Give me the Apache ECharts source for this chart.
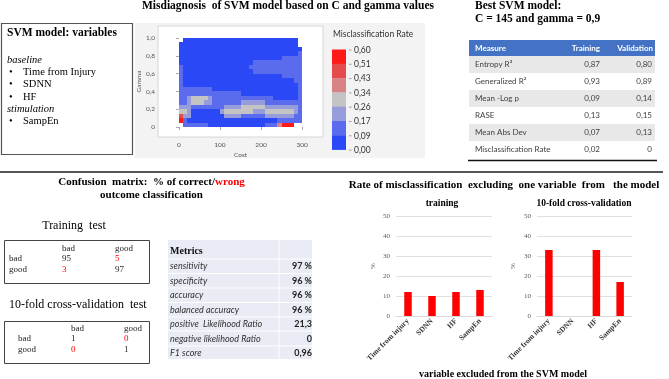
<!DOCTYPE html>
<html>
<head>
<meta charset="utf-8">
<script src="https://cdn.jsdelivr.net/npm/echarts@6/dist/echarts.min.js"></script>
<style>
html, body { margin: 0; padding: 0; background: #fff; }
#main { width: 669px; height: 379px; }
</style>
</head>
<body>
<div id="main"></div>
<script>
// ---- contour panel: misclassification rate over Cost x Gamma (10-wide cost bins, 0.05 gamma bins)
var costBins = [5,15,25,35,45,55,65,75,85,95,105,115,125,135,145,155,165,175,185,195,205,215,225,235,245,255,265,275,285,295];
var gammaBins = [0.025,0.075,0.125,0.175,0.225,0.275,0.325,0.375,0.425,0.475,0.525,0.575,0.625,0.675,0.725,0.775,0.825,0.875,0.925,0.975];
// rows from gamma 0.95-1.00 (top) down to 0-0.05 (bottom), null = outside the explored area
var rateRows = [
  [null,.05,.05,.05,.05,.05,.05,.05,.05,.05,  .05,.05,.05,.05,.05,.05,.05,.05,.05,.05,  .05,.05,.05,.05,.05,.05,.05,.05,.05,null],
  [.05,.05,.05,.05,.05,.05,.05,.05,.05,.05,  .05,.05,.05,.05,.05,.05,.05,.05,.05,.05,  .05,.05,.05,.05,.05,.05,.05,.05,.05,null],
  [.05,.05,.05,.05,.05,.05,.05,.05,.05,.05,  .05,.05,.05,.05,.05,.05,.05,.05,.05,.05,  .05,.05,.05,.05,.05,.05,.05,.05,.05,.05],
  [.05,.05,.05,.05,.05,.05,.05,.05,.05,.05,  .05,.05,.05,.05,.05,.05,.05,.05,.05,.05,  .05,.05,.05,.05,.05,.05,.05,.05,.05,.13],
  [.05,.05,.05,.05,.05,.05,.05,.05,.05,.05,  .05,.05,.05,.05,.05,.05,.05,.05,.05,.05,  .05,.05,.05,.05,.05,.13,.13,.13,.13,.13],
  [.05,.05,.05,.05,.05,.05,.05,.05,.05,.05,  .05,.05,.05,.05,.05,.05,.05,.05,.13,.13,  .13,.13,.13,.13,.13,.13,.13,.13,.13,.13],
  [.13,.05,.05,.05,.05,.05,.05,.05,.05,.05,  .05,.05,.05,.05,.05,.05,.05,.13,.13,.13,  .13,.13,.13,.13,.13,.13,.13,.13,.13,.13],
  [.13,.05,.05,.05,.05,.05,.05,.05,.05,.05,  .05,.05,.05,.05,.05,.05,.05,.05,.13,.13,  .13,.13,.13,.13,.13,.13,.13,.13,.13,.13],
  [.13,.05,.05,.05,.05,.05,.05,.05,.05,.05,  .05,.05,.05,.05,.05,.05,.05,.05,.05,.05,  .05,.05,.05,.05,.05,.13,.13,.13,.13,.13],
  [.13,.05,.05,.05,.05,.05,.05,.05,.05,.05,  .05,.05,.05,.05,.05,.05,.05,.05,.05,.05,  .05,.05,.05,.05,.05,.05,.05,.05,.13,.13],
  [.13,.05,.05,.05,.05,.05,.05,.05,.05,.05,  .05,.05,.05,.05,.05,.05,.05,.05,.05,.05,  .05,.05,.05,.05,.05,.05,.05,.05,.05,.13],
  [.13,.13,.13,.13,.13,.13,.13,.13,.05,.05,  .05,.05,.05,.05,.05,.05,.05,.05,.05,.05,  .05,.05,.05,.05,.05,.05,.05,.05,.05,.13],
  [.13,.13,.13,.13,.13,.13,.13,.13,.13,.13,  .13,.13,.13,.13,.13,.05,.05,.05,.05,.05,  .05,.05,.05,.05,.05,.05,.05,.05,.05,.13],
  [.13,.13,.21,.30,.30,.30,.30,.21,.13,.13,  .13,.13,.13,.13,.13,.13,.13,.13,.13,.13,  .13,.13,.13,.05,.05,.05,.05,.05,.05,.13],
  [.13,.13,.21,.30,.30,.30,.21,.21,.13,.13,  .13,.13,.13,.13,.13,.21,.21,.21,.21,.21,  .21,.13,.13,.13,.13,.13,.13,.13,.13,.13],
  [.21,.21,.21,.13,.13,.13,.13,.13,.13,.13,  .13,.21,.21,.21,.21,.30,.30,.30,.30,.30,  .30,.21,.21,.21,.21,.21,.21,.21,.21,.13],
  [.30,.30,.21,.05,.05,.05,.05,.05,.05,.05,  .21,.30,.30,.30,.30,.30,.30,.30,.21,.21,  .21,.30,.30,.30,.30,.30,.30,.30,.21,.13],
  [.47,.21,.21,.05,.05,.05,.05,.05,.05,.05,  .05,.21,.21,.21,.21,.13,.13,.13,.13,.13,  .13,.21,.21,.21,.21,.21,.21,.21,.13,.13],
  [.55,.13,.05,.05,.05,.05,.05,.05,.05,.05,  .05,.05,.05,.05,.05,.05,.05,.05,.05,.05,  .05,.05,.05,.05,.13,.13,.13,.13,.13,.13],
  [null,.13,.13,.13,.13,.13,.13,.05,.05,.05,  .05,.05,.05,.05,.05,.05,.05,.05,.05,.05,  .05,.13,.13,.13,.38,.55,.55,.55,null,null]
];
var costStep = 10, gammaStep = 0.05;
var rateBreaks = [0, 0.09, 0.17, 0.26, 0.34, 0.43, 0.51, 0.60];
var rateColors = ['#2b48f7', '#5b6bee', '#979dda', '#c4c4c4', '#d98484', '#e44b4b', '#ff1a1a'];
var gammaTicks = [0, 0.2, 0.4, 0.6, 0.8, 1.0];
var costTicks = [0, 100, 200, 300];

// ---- best model table
var measures = ['Entropy R²', 'Generalized R²', 'Mean -Log p', 'RASE', 'Mean Abs Dev', 'Misclassification Rate'];
var trainingFit = [0.87, 0.93, 0.09, 0.13, 0.07, 0.02];
var validationFit = [0.80, 0.89, 0.14, 0.15, 0.13, 0];

// ---- confusion matrices and metrics
var classes = ['bad', 'good'];
var trainMatrix = [[95, 5], [3, 97]];
var cvMatrix = [[1, 0], [0, 1]];
var metricNames = ['sensitivity', 'specificity', 'accuracy', 'balanced accuracy', 'positive  Likelihood Ratio', 'negative likelihood Ratio', 'F1 score'];
var metricValues = ['97 %', '96 %', '96 %', '96 %', '21,3', '0', '0,96'];

// ---- misclassification when one variable is excluded (%)
var variables = ['Time from injury', 'SDNN', 'HF', 'SampEn'];
var trainingRate = [12, 10, 12, 13];
var cvRate = [33, 0, 33, 17];

var SERIF = '"Liberation Serif", "Times New Roman", serif';
var SANS = 'Lato, "Open Sans", sans-serif';

function fmt(v) { return v === 0 ? '0' : v.toFixed(2).replace('.', ','); }

function txt(x, y, s, font, fill, align, extra) {
    var el = { type: 'text', x: x, y: y, z: 20, silent: true,
        style: { text: s, font: font, fill: fill || '#000', align: align || 'left', verticalAlign: 'middle' } };
    if (extra) Object.assign(el.style, extra);
    return el;
}
function box(x, y, w, h, fill, stroke, lw, z) {
    return { type: 'rect', z: z === undefined ? 5 : z, silent: true, shape: { x: x, y: y, width: w, height: h },
        style: { fill: fill || 'none', stroke: stroke || null, lineWidth: lw || 0 } };
}
function hline(x1, x2, y, color, lw, z) {
    return { type: 'line', z: z || 6, silent: true, shape: { x1: x1, y1: y, x2: x2, y2: y }, style: { stroke: color, lineWidth: lw } };
}
function vline(x, y1, y2, color, lw, z) {
    return { type: 'line', z: z || 6, silent: true, shape: { x1: x, y1: y1, x2: x, y2: y2 }, style: { stroke: color, lineWidth: lw } };
}

// cells as [cost, gamma, rate]
var cellData = [];
rateRows.forEach(function (row, r) {
    var gamma = gammaBins[gammaBins.length - 1 - r];
    row.forEach(function (v, ci) { if (v !== null) cellData.push([costBins[ci], gamma, v]); });
});

var pieces = [];
for (var i = 0; i < rateColors.length; i++) {
    pieces.push({ gte: rateBreaks[i], lt: rateBreaks[i + 1], color: rateColors[i] });
}

var g = [];
// titles top
g.push(txt(288, 6, 'Misdiagnosis  of SVM model based on C and gamma values', 'bold 11.5px ' + SERIF, '#000', 'center'));
g.push(txt(475, 6, 'Best SVM model:', 'bold 11.5px ' + SERIF));
g.push(txt(475, 19, 'C = 145 and gamma = 0,9', 'bold 11.5px ' + SERIF));

// variables box
g.push(box(1.5, 23.5, 131, 131, '#fff', '#555', 1.2));
g.push(txt(7, 33, 'SVM model: variables', 'bold 11.5px ' + SERIF));
g.push(txt(7, 60, 'baseline', 'italic 10.5px ' + SERIF));
[['Time from Injury', 72], ['SDNN', 84.5], ['HF', 97]].forEach(function (it) {
    g.push(txt(9, it[1], '•', '10.5px ' + SERIF));
    g.push(txt(23, it[1], it[0], '10.5px ' + SERIF));
});
g.push(txt(7, 109, 'stimulation', 'italic 10.5px ' + SERIF));
g.push(txt(9, 121.5, '•', '10.5px ' + SERIF));
g.push(txt(23, 121.5, 'SampEn', '10.5px ' + SERIF));

// contour panel background and legend
g.push(box(135, 23, 290, 135, '#f3f3f3', null, 0, -10));
g.push(txt(333, 34, 'Misclassification Rate', '8.5px ' + SANS, '#333'));
var legTop = 49.5, legStep = 14.3;
for (var k = 0; k < rateColors.length; k++) {
    var c = rateColors[rateColors.length - 1 - k];
    g.push(box(332, legTop + k * legStep, 14, legStep + 0.3, c, null, 0, 8));
}
for (var k2 = 0; k2 < rateBreaks.length; k2++) {
    var lv = rateBreaks[rateBreaks.length - 1 - k2];
    var yy = legTop + k2 * legStep + 0.5;
    g.push(hline(349, 351.5, yy, '#888', 0.8));
    g.push(txt(354, yy, lv.toFixed(2).replace('.', ','), '8.5px ' + SANS, '#333'));
}

// best model table
var tx0 = 469, tx1 = 655;
g.push(box(tx0, 40, tx1 - tx0, 16, '#4472c4'));
g.push(txt(475, 48, 'Measure', 'bold 8px ' + SANS, '#fff'));
g.push(txt(600, 48, 'Training', 'bold 8px ' + SANS, '#fff', 'right'));
g.push(txt(653, 48, 'Validation', 'bold 8px ' + SANS, '#fff', 'right'));
measures.forEach(function (m, r) {
    var top = 56 + r * 17;
    if (r % 2 === 0) g.push(box(tx0, top, tx1 - tx0, 17, '#e8e8e8'));
    g.push(txt(475, top + 8.5, m, '8px ' + SANS, '#404040'));
    g.push(txt(600, top + 8.5, fmt(trainingFit[r]), '8px ' + SANS, '#404040', 'right'));
    g.push(txt(652, top + 8.5, fmt(validationFit[r]), '8px ' + SANS, '#404040', 'right'));
});
g.push(hline(468, 657, 160.5, '#111', 1.5));

// main divider
g.push(hline(0, 663, 172, '#555', 1.8));

// confusion matrix section
g.push(txt(151.5, 182, '{b|Confusion  matrix:  % of correct/}{r|wrong}', 'bold 11px ' + SERIF, '#000', 'center', {
    rich: { b: { font: 'bold 11px ' + SERIF, fill: '#000' }, r: { font: 'bold 11px ' + SERIF, fill: '#ff0000' } }
}));
g.push(txt(151.5, 195, 'outcome classification', 'bold 11px ' + SERIF, '#000', 'center'));

function matrixBox(title, titleX, titleY, titleAlign, bx, by, bh, colX, rowX, headY, rowY, m) {
    g.push(txt(titleX, titleY, title, '12px ' + SERIF, '#000', titleAlign));
    g.push(box(bx, by, 145, bh, '#fff', '#444', 1));
    g.push(txt(colX[0], headY, classes[0], '9px ' + SERIF, '#222'));
    g.push(txt(colX[1], headY, classes[1], '9px ' + SERIF, '#222'));
    for (var r = 0; r < 2; r++) {
        g.push(txt(rowX, rowY[r], classes[r], '9px ' + SERIF, '#222'));
        for (var cc = 0; cc < 2; cc++) {
            g.push(txt(colX[cc], rowY[r], String(m[r][cc]), '9px ' + SERIF, r === cc ? '#222' : '#ff0000'));
        }
    }
}
matrixBox('Training  test', 74, 226, 'center', 4.5, 240.5, 43, [62, 115], 9, 249, [259, 270], trainMatrix);
matrixBox('10-fold cross-validation  test', 9, 305, 'left', 4.5, 321.5, 42, [71, 124], 18, 329, [339, 350], cvMatrix);

// metrics table
g.push(box(168, 240, 144, 119, '#e9ebf5'));
var rowLines = [259, 273.5, 288, 302.5, 317, 331, 346];
rowLines.forEach(function (y) { g.push(hline(168, 312, y, '#fff', 1)); });
g.push(vline(279, 240, 359, '#fff', 1));
g.push(txt(170, 251, 'Metrics', 'bold 10px ' + SERIF, '#111'));
var metricY = [266, 281, 295.5, 310, 324, 339, 353];
metricNames.forEach(function (n, r) {
    g.push(txt(170, metricY[r], n, 'italic 9px ' + SANS, '#333'));
    g.push(txt(312, metricY[r], metricValues[r], 'bold 9px ' + SANS, '#222', 'right'));
});

// bar chart titles
g.push(txt(504, 185, 'Rate of misclassification  excluding  one variable  from   the model', 'bold 11px ' + SERIF, '#000', 'center'));
g.push(txt(442, 204, 'training', 'bold 9.5px ' + SERIF, '#000', 'center'));
g.push(txt(584, 204, '10-fold cross-validation', 'bold 9.5px ' + SERIF, '#000', 'center'));
g.push(txt(503, 374, 'variable excluded from the SVM model', 'bold 10px ' + SERIF, '#000', 'center'));

function barXAxis(idx) {
    return {
        gridIndex: idx, type: 'category', data: variables,
        axisLine: { lineStyle: { color: '#d9d9d9' } }, axisTick: { show: false },
        axisLabel: { rotate: 45, interval: 0, margin: 4, fontFamily: SERIF, fontWeight: 'bold', fontSize: 7.5, color: '#333' }
    };
}
function barYAxis(idx, gap) {
    return {
        gridIndex: idx, type: 'value', min: 0, max: 50, interval: 10,
        axisLine: { show: false }, axisTick: { show: false },
        splitLine: { lineStyle: { color: '#e0e0e0', width: 1 } },
        axisLabel: { fontFamily: SERIF, fontSize: 7, color: '#595959', margin: 6 },
        name: '%', nameLocation: 'middle', nameGap: gap, nameRotate: 90,
        nameTextStyle: { fontFamily: SERIF, fontSize: 7, color: '#595959' }
    };
}

// one filled cell per grid point; edges snapped to whole pixels so neighbouring cells meet without seams
function renderCell(params, api) {
    var a = api.coord([api.value(0) - costStep / 2, api.value(1) + gammaStep / 2]);
    var b = api.coord([api.value(0) + costStep / 2, api.value(1) - gammaStep / 2]);
    var x0 = Math.round(a[0]), y0 = Math.round(a[1]);
    var x1 = Math.round(b[0]), y1 = Math.round(b[1]);
    return {
        type: 'rect',
        shape: { x: x0, y: y0, width: x1 - x0, height: y1 - y0 },
        style: { fill: api.visual('color'), stroke: null, lineWidth: 0 }
    };
}

var chart = echarts.init(document.getElementById('main'), null, { renderer: 'canvas' });
chart.setOption({
    animation: false,
    backgroundColor: '#fff',
    grid: [
        { left: 158, top: 26, width: 165, height: 111, show: true, backgroundColor: '#fff', borderColor: '#d6d6d6', borderWidth: 1 },
        { left: 396, top: 216, width: 96, height: 100 },
        { left: 537, top: 216, width: 95, height: 100 }
    ],
    xAxis: [
        {
            gridIndex: 0, type: 'value', min: -51, max: 351,
            axisLine: { show: false }, splitLine: { show: false },
            axisTick: { show: true, customValues: costTicks, length: 3, lineStyle: { color: '#aaa' } },
            axisLabel: { customValues: costTicks, fontFamily: SANS, fontSize: 6.5, color: '#555', margin: 4 },
            name: 'Cost', nameLocation: 'middle', nameGap: 14,
            nameTextStyle: { fontFamily: SANS, fontSize: 6.5, color: '#555' }
        },
        barXAxis(1),
        barXAxis(2)
    ],
    yAxis: [
        {
            gridIndex: 0, type: 'value', min: -0.112, max: 1.135,
            axisLine: { show: false }, splitLine: { show: false },
            axisTick: { show: true, customValues: gammaTicks, length: 3, lineStyle: { color: '#aaa' } },
            axisLabel: {
                customValues: gammaTicks, fontFamily: SANS, fontSize: 6.5, color: '#555', margin: 3,
                formatter: function (v) { return v === 0 ? '0' : v.toFixed(1).replace('.', ','); }
            },
            name: 'Gamma', nameLocation: 'middle', nameGap: 15,
            nameTextStyle: { fontFamily: SANS, fontSize: 6.5, color: '#555' }
        },
        barYAxis(1, 19),
        barYAxis(2, 20)
    ],
    visualMap: { show: false, type: 'piecewise', seriesIndex: 0, dimension: 2, pieces: pieces },
    series: [
        { type: 'custom', xAxisIndex: 0, yAxisIndex: 0, data: cellData, renderItem: renderCell, silent: true, clip: true },
        { type: 'bar', xAxisIndex: 1, yAxisIndex: 1, data: trainingRate, barWidth: 7.5, itemStyle: { color: '#ff0000' } },
        { type: 'bar', xAxisIndex: 2, yAxisIndex: 2, data: cvRate, barWidth: 7.5, itemStyle: { color: '#ff0000' } }
    ],
    graphic: { elements: g }
});
</script>
</body>
</html>
